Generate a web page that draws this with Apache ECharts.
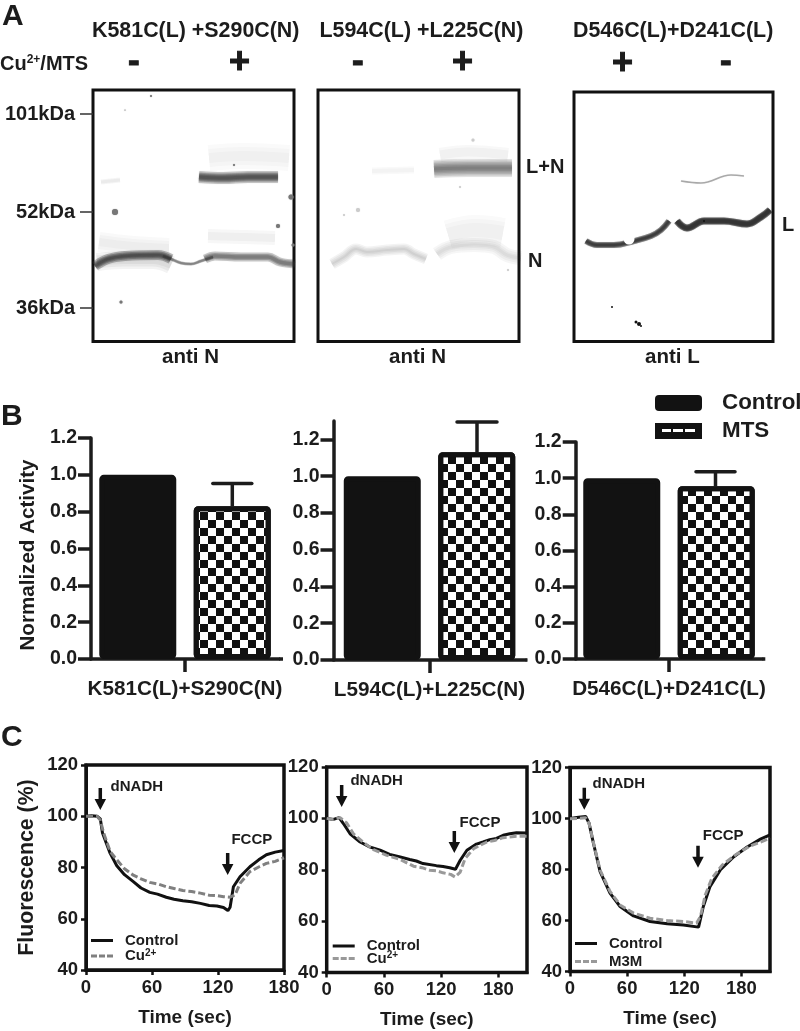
<!DOCTYPE html>
<html><head><meta charset="utf-8">
<style>html,body{margin:0;padding:0;background:#fff}#c{width:800px;height:1031px}</style>
<script src="https://cdn.jsdelivr.net/npm/echarts@6/dist/echarts.min.js"></script>
</head><body><div id="c"></div>
<script>
// ---------- Panel A: gel bands (lane position, migration distance) ----------
const gelMarkerPositions = [24, 122, 218];
const gelMarkerLabels = ['101kDa', '52kDa', '36kDa'];

const gel1LowerLeft = [[2,176],[15,169],[32,166],[65,165],[78,169]];
const gel1LowerMid = [[70,166],[78,169],[88,173],[98,174],[108,171],[120,167]];
const gel1LowerRight = [[112,169],[122,166],[148,167],[175,167],[187,172],[202,174]];
const gel1LowerHaloL = [[4,172],[30,170],[60,170],[78,175]];
const gel1UpperSmearL = [[6,152],[40,156],[76,158]];
const gel1UpperSmearR = [[115,146],[150,147],[182,148]];
const gel1UpperBand = [[106,87],[130,88],[155,87],[185,87]];
const gel1UpperHalo = [[116,68],[150,66],[196,68]];
const gel1Ghost = [[8,92],[27,90]];
const gel1Spots = [[22,122,6],[185,136,4],[198,107,5],[28,212,3],[58,6,2],[32,20,1],[141,75,2],[200,155,3]];

const gel2UpperBand = [[116,79],[150,78],[194,78]];
const gel2UpperHalo = [[122,65],[150,62],[190,65]];
const gel2Ghost = [[54,81],[96,80]];
const gel2LowerL = [[14,174],[26,167],[38,159],[49,162],[69,160],[86,159],[96,164],[108,169]];
const gel2LowerR = [[119,164],[133,157],[156,155],[176,157],[189,165],[203,168]];
const gel2Smear = [[130,145],[158,140],[185,143]];
const gel2Spots = [[155,50,3],[26,125,2],[40,120,4],[142,97,2],[190,180,2]];

const gel3LeftBand = [[12,149],[23,153],[40,153],[60,149],[77,144],[87,138],[95,129]];
const gel3RightBand = [[103,129],[113,136],[130,129],[150,129],[173,132],[187,125],[196,118]];
const gel3Ghost = [[107,89],[127,91],[157,83],[170,84]];
const gel3Spots = [[62,230,3],[65,232,4],[67,234,2],[38,215,2],[130,129,2]];
const gel3Bubble = [[55,147,11]];

// ---------- Panel B: normalized activity ----------
const complexNames = ['K581C(L)+S290C(N)', 'L594C(L)+L225C(N)', 'D546C(L)+D241C(L)'];
const controlActivity = [1.0, 1.0, 1.0];
const mtsActivity = [0.83, 1.13, 0.955];
const mtsErrorTop = [0.953, 1.295, 1.035];
const activityTicks = [0, 0.2, 0.4, 0.6, 0.8, 1.0, 1.2];

// ---------- Panel C: fluorescence traces [time, %] ----------
const timeTicks = [0, 60, 120, 180];
const fluorTicks = [40, 60, 80, 100, 120];

const c1Control = [[0,100],[5,100.2],[10,100],[13,99],[15,93.5],[22,85.5],[28,80.7],[35,77.2],[43,74.5],[50,72],[58,70.3],[65,69.6],[73,68.4],[80,67.6],[88,67],[96,66.6],[104,66],[112,65.2],[119,65],[125,64.4],[129,63.2],[131,64.5],[134,72.5],[140,76.4],[149,80.3],[157,83],[164,85],[172,86],[180,86.6]];
const c1Cu = [[0,100],[5,100],[10,100],[13,98.5],[16,93.5],[22,86.2],[28,83],[35,79.5],[43,77],[50,75.6],[58,74.2],[65,73.6],[73,72.5],[80,71.8],[88,71],[96,70.6],[104,70],[112,69.2],[119,69],[125,68.6],[131,68.4],[135.5,69.3],[140,73.8],[149,78.4],[157,80.2],[164,81.6],[172,82.4],[180,83.8]];

const c2Control = [[0,100],[7,99.6],[13,100.3],[17.5,98],[24.5,94],[35,90.8],[45,88.9],[56,87.6],[66,86],[77,85],[87,84],[94,83.4],[101,82.4],[115,81.6],[122,81.3],[129,80.8],[135,80.2],[140,83.7],[147,87.6],[157,90],[164,90.8],[171,91.7],[178,92.2],[185,93.4],[192,94],[199,94.4],[210,94.3]];
const c2Cu = [[0,100],[7,99.6],[14,100.3],[21,98.2],[28,94],[38,90.8],[49,87.8],[63,85.6],[77,84],[91,81.4],[100,80.8],[108,79.8],[115,79.6],[122,78.8],[130,78.2],[134.5,77.2],[140,79.1],[145,84.3],[154,88.2],[161,89.6],[168,90.8],[176,91.4],[185,92.5],[199,93],[210,93]];

const c3Control = [[0,100],[9,100.5],[16.5,100.8],[20,98.2],[24.6,90.3],[31.6,79.2],[42,70.7],[52.6,65.5],[66.7,61.8],[84,59.6],[102,58.7],[119,58.2],[135,57.4],[140,65.5],[147,73.3],[158,79.9],[172,85],[186,88.8],[200,91.9],[210,93.6]];
const c3M3M = [[0,99.9],[9,100],[16.5,100.3],[20,98.2],[24.6,90.5],[31.6,79.8],[42,71.4],[52.6,66.1],[66.7,62.9],[84,60.9],[102,60],[119,59.6],[133,59],[137,61.6],[142,70],[149,76.6],[160,81.8],[174,85.8],[188,89],[202,91],[210,92.3]];

// [time, %] at the centre of each arrow, with its label
const arrows1 = [[13,106.7,'dNADH'],[128.8,81.4,'FCCP']];
const arrows2 = [[15.7,108.7,'dNADH'],[133.8,90.8,'FCCP']];
const arrows3 = [[15,107.7,'dNADH'],[134.4,85,'FCCP']];

// ---------- layout & style ----------
const FONT = '"Liberation Sans", Arial, sans-serif';
const INK = '#1c1c1c';
const gelRects = [[93,90,201,251.5],[318,90,201,251.5],[574,92,199,249.5]];
const barRects = [
  {left:91, top:438, width:188, height:221, max:1.2, off:47.3, capW:39, overhang:4},
  {left:333.5, top:421, width:192, height:239, max:1.3, off:47.5, capW:40, overhang:2},
  {left:575.7, top:442, width:186.6, height:217, max:1.2, off:46.5, capW:39, overhang:3}
];
const lineRects = [
  {left:86, top:765, width:198, height:205, max:180},
  {left:326.7, top:767, width:200.3, height:205.5, max:210},
  {left:570, top:767.5, width:200, height:204, max:210}
];

const grid = [], xAxis = [], yAxis = [], series = [];

// gels
gelRects.forEach((r, i) => {
  grid.push({left:r[0], top:r[1], width:r[2], height:r[3], show:true, borderColor:'#111', borderWidth:3, backgroundColor:'#fff'});
  xAxis.push({type:'value', gridIndex:i, min:0, max:r[2], show:false});
  const withMarkers = i === 0;
  yAxis.push({type:'value', gridIndex:i, min:0, max:r[3], inverse:true, show:withMarkers,
    axisLine:{show:false}, splitLine:{show:false},
    axisTick:{show:withMarkers, length:13, inside:false, lineStyle:{color:'#333', width:1.5}, customValues:gelMarkerPositions},
    axisLabel:{show:withMarkers, margin:18, color:INK, fontFamily:FONT, fontWeight:'bold', fontSize:20,
      customValues:gelMarkerPositions, formatter:v => gelMarkerLabels[gelMarkerPositions.indexOf(v)]}});
});
// a soft band: nested strokes of a translucent ink, so the core is dark and the edge fades
function band(g, name, pts, widths, rgb, alpha, blur) {
  widths.forEach(w => {
    series.push({type:'line', name:name, xAxisIndex:g, yAxisIndex:g, data:pts, symbol:'none', smooth:0.4, silent:true, z:3,
      lineStyle:{color:'rgba('+rgb+','+alpha+')', width:w, cap:'butt', shadowBlur:blur, shadowColor:'rgba('+rgb+','+alpha+')'}});
  });
}
function spots(g, name, pts, color, blur) {
  series.push({type:'scatter', name:name, xAxisIndex:g, yAxisIndex:g, data:pts, symbolSize:d=>d[2], silent:true, z:4,
    itemStyle:{color:color, shadowBlur:blur||0, shadowColor:color, opacity:1}});
}
const DK = '50,50,50';
band(0,'gel1 smear',gel1UpperHalo,[26,18,10],DK,0.022,9);
band(0,'gel1 smear',gel1UpperSmearL,[20,14,8],DK,0.03,8);
band(0,'gel1 smear',gel1UpperSmearR,[14,8],DK,0.04,7);
band(0,'gel1 ghost',gel1Ghost,[5,3],DK,0.05,3);
band(0,'gel1 halo',gel1LowerHaloL,[18,13,8],DK,0.06,5);
band(0,'gel1 lower',gel1LowerLeft,[10,7,4.5,2.5],DK,0.3,1.5);
band(0,'gel1 lower',gel1LowerMid,[3,2],DK,0.3,1);
band(0,'gel1 lower',gel1LowerRight,[9,6,3.5],DK,0.24,1.5);
band(0,'gel1 upper',gel1UpperBand,[12,9,7,5,3],DK,0.25,2);
spots(0,'gel1 spots',gel1Spots,'#777',1);

band(1,'gel2 halo',gel2UpperHalo,[14,9],DK,0.035,6);
band(1,'gel2 ghost',gel2Ghost,[7,4],DK,0.03,4);
band(1,'gel2 smear',gel2Smear,[30,22,14],DK,0.022,9);
band(1,'gel2 lower',gel2LowerL,[11,8,5,2],DK,0.06,3);
band(1,'gel2 lower',gel2LowerR,[14,10,6,3],DK,0.045,4);
band(1,'gel2 upper',gel2UpperBand,[18,15,12,9,6,3],DK,0.13,2.5);
spots(1,'gel2 spots',gel2Spots,'#ccc',1);

band(2,'gel3 ghost',gel3Ghost,[1.5],DK,0.35,1);
band(2,'gel3 left',gel3LeftBand,[6,4,2],DK,0.5,1);
band(2,'gel3 right',gel3RightBand,[7,5,3],DK,0.62,1);
spots(2,'gel3 spots',gel3Spots,'#111',0);
spots(2,'gel3 bubble',gel3Bubble,'#fff',0);

// bars
const checker = {symbol:'rect', symbolSize:1, color:'#111', dashArrayX:[[7.5,7.5],[0,7.5,7.5,0]], dashArrayY:[7.5,0]};
barRects.forEach((r, k) => {
  const g = 3 + k;
  grid.push({left:r.left, top:r.top, width:r.width, height:r.height});
  xAxis.push({type:'category', gridIndex:g, data:[complexNames[k]],
    axisLine:{lineStyle:{color:INK, width:3.5}},
    axisTick:{show:true, alignWithLabel:true, length:13, lineStyle:{color:INK, width:3.5}, customValues:[0]},
    axisLabel:{margin:20, color:INK, fontFamily:FONT, fontWeight:'bold', fontSize:20.7, interval:0}});
  yAxis.push({type:'value', gridIndex:g, min:0, max:r.max, splitLine:{show:false},
    axisLine:{show:true, onZero:false, lineStyle:{color:INK, width:3.5}},
    axisTick:{show:true, length:13, lineStyle:{color:INK, width:3.5}, customValues:activityTicks},
    axisLabel:{margin:14, color:INK, fontFamily:FONT, fontWeight:'bold', fontSize:19.5, customValues:activityTicks, formatter:v=>v.toFixed(1)}});
  const base = {type:'bar', xAxisIndex:g, yAxisIndex:g, barWidth:77, barGap:'22.7%', silent:true, z:3};
  series.push(Object.assign({}, base, {name:'Control', data:[controlActivity[k]],
    itemStyle:{color:'#121212', borderColor:'#121212', borderWidth:5, borderRadius:2}}));
  series.push(Object.assign({}, base, {name:'MTS', data:[mtsActivity[k]],
    itemStyle:{color:'#fff', borderColor:'#121212', borderWidth:5, borderRadius:2, decal:checker}}));
  series.push({type:'custom', name:'MTS error', xAxisIndex:g, yAxisIndex:g, silent:true, z:2,
    data:[[0, mtsActivity[k], mtsErrorTop[k]]],
    renderItem:(p, api) => {
      const a = api.coord([0, api.value(1)]), b = api.coord([0, api.value(2)]);
      const x = a[0] + r.off;
      return {type:'group', children:[
        {type:'line', shape:{x1:x, y1:a[1], x2:x, y2:b[1]}, style:{stroke:INK, lineWidth:3.5}},
        {type:'line', shape:{x1:x-r.capW/2, y1:b[1], x2:x+r.capW/2, y2:b[1]}, style:{stroke:INK, lineWidth:3.5, lineCap:'round'}}
      ]};
    }});
});

// traces
const traces = [[c1Control,c1Cu,'Cu2+',arrows1,'#808080'],[c2Control,c2Cu,'Cu2+',arrows2,'#999'],[c3Control,c3M3M,'M3M',arrows3,'#999']];
const arrowPath = 'path://M4 0H7.5V11H11.5L5.75 22L0 11H4Z';
const labelOffsets = [
  {dNADH:[16,-1], FCCP:[9.5,-13.5]},
  {dNADH:[14.5,-4], FCCP:[11,-8]},
  {dNADH:[14,-4.5], FCCP:[10.5,-9.5]}
];
const legends = [
  {id:'b', show:true, left:650, top:387, orient:'vertical', itemWidth:47, itemHeight:16, itemGap:6, selectedMode:false,
    textStyle:{color:INK, fontFamily:FONT, fontWeight:'bold', fontSize:22.4, padding:[0,0,0,15]},
    data:[
      {name:'Control', itemStyle:{borderWidth:0, color:'#121212'}, icon:'roundRect'},
      {name:'MTS', itemStyle:{borderWidth:0, color:'#121212', decal:'none'}, icon:'path://M0 0H47V16H0Z M7 6V9H16V6Z M18 6V9H28V6Z M30 6V9H40V6Z'}
    ]}
];
const legendPos = [[86,928,0],[327.7,933.5,-3],[570,931,3]];
const solidIcon = 'path://M0 0H22V3H0Z';
const dashIcon = 'path://M0 0H6V3H0Z M8 0H14V3H8Z M16 0H22V3H16Z';
lineRects.forEach((r, k) => {
  const g = 6 + k, t = traces[k];
  grid.push({left:r.left, top:r.top, width:r.width, height:r.height, show:true, borderColor:'#111', borderWidth:3.5});
  xAxis.push({type:'value', gridIndex:g, min:0, max:r.max, splitLine:{show:false},
    name:'Time (sec)', nameLocation:'middle', nameGap:38,
    nameTextStyle:{color:INK, fontFamily:FONT, fontWeight:'bold', fontSize:19},
    axisLine:{show:true, onZero:false, lineStyle:{color:'#111', width:3}},
    axisTick:{show:true, length:5, lineStyle:{color:'#111', width:2.5}, customValues:timeTicks},
    axisLabel:{margin:8, color:INK, fontFamily:FONT, fontWeight:'bold', fontSize:18.5, customValues:timeTicks}});
  yAxis.push({type:'value', gridIndex:g, min:40, max:120, splitLine:{show:false},
    name: k===0 ? 'Fluorescence (%)' : '', nameLocation:'middle', nameGap:48,
    nameTextStyle:{color:INK, fontFamily:FONT, fontWeight:'bold', fontSize:21.3},
    axisLine:{show:true, onZero:false, lineStyle:{color:'#111', width:3}},
    axisTick:{show:true, length:5, lineStyle:{color:'#111', width:2.5}, customValues:fluorTicks},
    axisLabel:{margin:8, color:INK, fontFamily:FONT, fontWeight:'bold', fontSize:18.5, customValues:fluorTicks}});
  const nA = 'Control|' + (k+1), nB = t[2] + '|' + (k+1);
  series.push({type:'line', name:nA, xAxisIndex:g, yAxisIndex:g, data:t[0], symbol:'none', silent:true, z:3,
    lineStyle:{color:'#111', width:3}});
  series.push({type:'line', name:nB, xAxisIndex:g, yAxisIndex:g, data:t[1], symbol:'none', silent:true, z:4,
    lineStyle:{color:t[4], width:3, type:[7,3]}});
  series.push({type:'scatter', name:'arrows', xAxisIndex:g, yAxisIndex:g, silent:true, z:5, symbol:arrowPath, symbolSize:[11.5,22],
    itemStyle:{color:'#111', opacity:1},
    data:t[3].map(a => ({value:[a[0],a[1]], name:a[2],
      label:{show:true, formatter:a[2], position:labelOffsets[k][a[2]], align:'left', verticalAlign:'middle',
        color:INK, fontFamily:FONT, fontWeight:'bold', fontSize:15}}))});
  const lp = legendPos[k];
  legends.push({show:true, left:lp[0], top:lp[1], orient:'vertical', itemWidth:22, itemHeight:3, itemGap:lp[2], selectedMode:false,
    data:[{name:nA, icon:solidIcon, itemStyle:{color:'#111', borderWidth:0}}, {name:nB, icon:dashIcon, itemStyle:{color:t[4], borderWidth:0}}],
    formatter:n => { const s = n.split('|')[0]; return s==='Cu2+' ? 'Cu{sup|2+}' : s; },
    textStyle:{color:INK, fontFamily:FONT, fontWeight:'bold', fontSize:15, padding:[0,0,0,7],
      rich:{sup:{fontSize:10, fontWeight:'bold', fontFamily:FONT, color:INK, verticalAlign:'top', padding:[0,0,6,0]}}}});
});

// labels
function txt(text, x, y, size, heavy) {
  const style = {text:text, fontFamily:FONT, fontWeight:'bold', fontSize:size, fill:INK, textAlign:'left', textVerticalAlign:'middle'};
  if (heavy) { style.stroke = INK; style.lineWidth = heavy; }
  return {type:'text', x:x, y:y, silent:true, z:20, style:style};
}
const graphic = [
  txt('A',2,17,30), txt('B',1,417,30), txt('C',1,738,30),
  txt('K581C(L) +S290C(N)',92,31,21.4), txt('L594C(L) +L225C(N)',319.5,31,21.4), txt('D546C(L)+D241C(L)',573,31,21.4),
  txt('Cu{sup|2+}/MTS',0,64,20),
  txt('-',128,62,35,1), txt('+',229,63,36,1), txt('-',352,62,35,1), txt('+',452,63,36,1), txt('+',612,64,36,1), txt('-',720,62,35,1),
  txt('L+N',526,167,20), txt('N',528,261,20), txt('L',782,225,20),
  txt('anti N',162,357,20.5), txt('anti N',389,357,20.5), txt('anti L',645,357,20.5),
  {type:'text', x:28, y:555, rotation:Math.PI/2, silent:true, z:20,
   style:{text:'Normalized Activity', fontFamily:FONT, fontWeight:'bold', fontSize:20.6, fill:INK, textAlign:'center', textVerticalAlign:'middle'}}
];
graphic[6].style.rich = {sup:{fontSize:12, fontWeight:'bold', fontFamily:FONT, fill:INK, verticalAlign:'top', padding:[0,0,6,0]}};
barRects.forEach(r => {
  graphic.push({type:'rect', silent:true, z:1, shape:{x:r.left+r.width, y:r.top+r.height-1.75, width:r.overhang, height:3.5}, style:{fill:INK}});
});

const chart = echarts.init(document.getElementById('c'), null, {renderer:'canvas'});
chart.setOption({animation:false, backgroundColor:'#fff', grid, xAxis, yAxis, series, legend:legends, graphic});
</script></body></html>
